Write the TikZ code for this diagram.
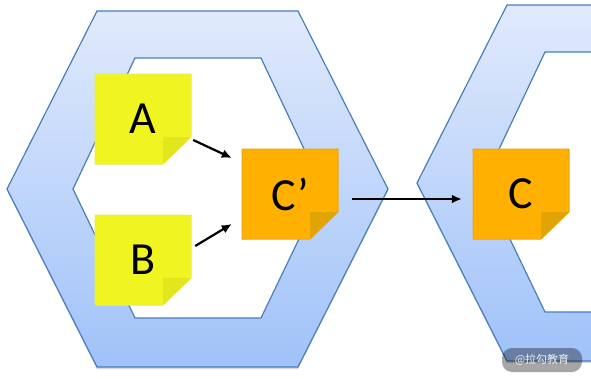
\documentclass[tikz,border=0pt]{standalone}
\usepackage{fontspec}
\setmainfont{Carlito}
\newfontfamily\cjk{Noto Sans CJK SC}
\usepackage{tikz}
\usetikzlibrary{arrows.meta, shadows}
\usepackage{xcolor}
\definecolor{hexborda}{RGB}{74,126,187}
\definecolor{hextopo}{RGB}{224,234,252}
\definecolor{hexbase}{RGB}{160,194,249}
\definecolor{amarelo}{RGB}{240,245,34}
\definecolor{amareloborda}{RGB}{230,238,80}
\definecolor{amarelodobra}{RGB}{226,230,28}
\definecolor{laranja}{RGB}{255,176,0}
\definecolor{laranjaborda}{RGB}{236,166,20}
\definecolor{laranjadobra}{RGB}{226,164,4}
\tikzset{
    colmeia/.style={draw=hexborda, line width=1.2pt, top color=hextopo, bottom color=hexbase,
        drop shadow={opacity=0.3, shadow xshift=0pt, shadow yshift=-2pt}},
    miolo/.style={draw=hexborda, line width=1.2pt, fill=white},
    letra/.style={font=\fontsize{46}{46}\selectfont, minimum width=96pt, minimum height=90pt, inner sep=0pt},
    seta/.style={-{Latex[length=10pt, width=9pt]}, line width=2.2pt},
    marca/.style={fill=black, fill opacity=0.35, text=white, text opacity=0.9, rounded corners=10pt,
        minimum width=80pt, minimum height=24pt, font=\cjk\fontsize{11}{11}\selectfont}
}
% bilhete: canto superior esquerdo, cor, borda, dobra
\newcommand{\postit}[4]{%
    \filldraw[fill=#2, draw=#3, line width=1pt] (#1) -- ++(96,0) -- ++(0,63) -- ++(-28,27) -- ++(-68,0) -- cycle;
    \fill[#4] (#1) ++(68,90) -- ++(28,-27) -- ++(-28,0) -- cycle;
}

\begin{document}
\begin{tikzpicture}[x=1pt, y=-1pt]
    \useasboundingbox (0,0) rectangle (591,378);
    \clip (0,0) rectangle (591,378);
    % colmeias
    \draw[colmeia] (7,189) -- (97,11) -- (298,11) -- (388,189) -- (298,367) -- (97,367) -- cycle;
    \draw[miolo] (73,189) -- (135,58) -- (261,58) -- (323,189) -- (261,318) -- (135,318) -- cycle;
    \draw[colmeia] (417,183) -- (507,5) -- (708,5) -- (798,183) -- (708,361) -- (507,361) -- cycle;
    \draw[miolo] (483,183) -- (545,52) -- (671,52) -- (733,183) -- (671,312) -- (545,312) -- cycle;
    % bilhetes
    \postit{95,74}{amarelo}{amareloborda}{amarelodobra}
    \postit{95,215}{amarelo}{amareloborda}{amarelodobra}
    \postit{242,149}{laranja}{laranjaborda}{laranjadobra}
    \postit{473,149}{laranja}{laranjaborda}{laranjadobra}
    \node[letra] (A) at (143,119) {A};
    \node[letra] (B) at (143,260) {B};
    \node[letra] (Cl) at (290,194) {C’};
    \node[letra] (C) at (521,194) {C};
    % setas
    \draw[seta] ([shift={(2,21)}]A.east) -- ([shift={(-10,-36)}]Cl.west);
    \draw[seta] ([shift={(4,-14)}]B.east) -- ([shift={(-10,30)}]Cl.west);
    \draw[seta] ([shift={(14,5)}]Cl.east) -- ([shift={(-11,5)}]C.west);
    \node[marca] (logo) at (542,360) {@拉勾教育};
\end{tikzpicture}
\end{document}
